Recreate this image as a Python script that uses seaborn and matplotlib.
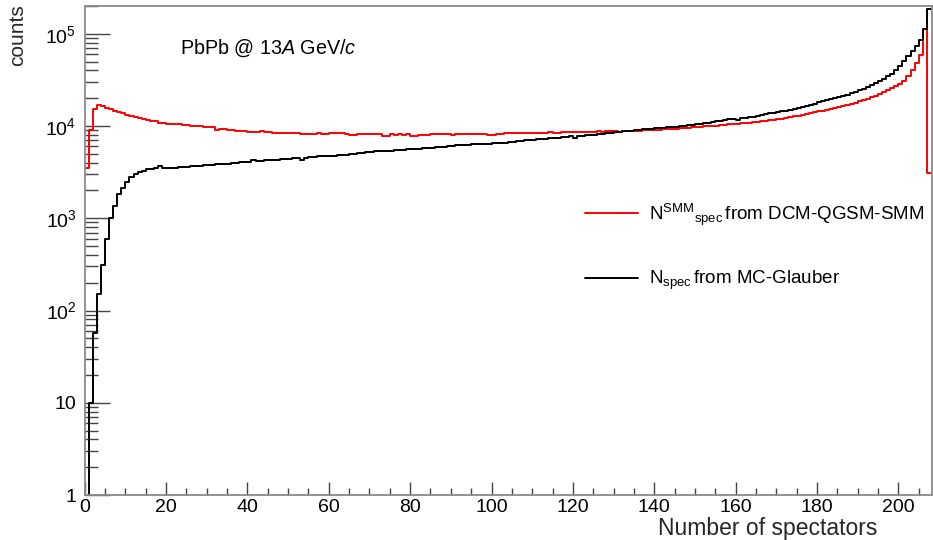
import numpy as np
import pandas as pd
import matplotlib
matplotlib.use("Agg")
import matplotlib.pyplot as plt
import seaborn as sns
from matplotlib.ticker import FixedLocator, MultipleLocator, LogLocator, NullFormatter, FixedFormatter

# ---------------- data (bin lower edges 0..207, width 1) ----------------
n_spec = np.arange(0, 208)

glauber_counts = [
    0, 10, 57, 152, 313, 594, 1000, 1343, 1830, 2110,
    2450, 2780, 2990, 3140, 3240, 3410, 3440, 3550, 3680, 3470,
    3550, 3480, 3490, 3600, 3620, 3640, 3650, 3680, 3720, 3760,
    3790, 3810, 3840, 3870, 3880, 3920, 3960, 4000, 4030, 4060,
    4100, 4250, 4150, 4180, 4230, 4260, 4290, 4330, 4360, 4380,
    4420, 4460, 4480, 4300, 4520, 4560, 4600, 4700, 4790, 4700,
    4750, 4780, 4800, 4850, 4900, 4950, 5000, 5050, 5120, 5200,
    5290, 5300, 5320, 5360, 5400, 5420, 5450, 5480, 5520, 5570,
    5610, 5650, 5700, 5740, 5790, 5840, 5880, 5930, 5990, 6040,
    6100, 6150, 6200, 6250, 6300, 6360, 6380, 6400, 6420, 6450,
    6480, 6500, 6520, 6600, 6680, 6750, 6830, 6910, 6970, 7030,
    7090, 7150, 7200, 7270, 7350, 7420, 7500, 7570, 7650, 7720,
    7400, 7800, 7860, 7930, 8010, 8090, 8170, 8250, 8330, 8430,
    8540, 8650, 8730, 8810, 8900, 8990, 9080, 9170, 9250, 9350,
    9400, 9480, 9560, 9640, 9730, 9850, 9970, 10080, 10190, 10300,
    10440, 10580, 10720, 10870, 11020, 11200, 11380, 11580, 11800, 11970,
    11600, 12150, 12300, 12400, 12550, 12800, 13200, 13400, 13700, 13950,
    14150, 14400, 14700, 15000, 15400, 15850, 16200, 16600, 17000, 17500,
    18000, 18500, 19000, 19500, 20000, 20600, 21200, 21800, 22600, 23400,
    24300, 25300, 26400, 27600, 29000, 30400, 32300, 34500, 37000, 40500,
    45000, 50100, 57000, 64500, 72800, 86000, 112000, 185000,
]

smm_counts = [
    3550, 9100, 15400, 17000, 16300, 15600, 15200, 14700, 14100, 13700,
    13300, 12900, 12500, 12200, 11900, 11500, 11200, 11300, 10900, 10700,
    10500, 10600, 10500, 10400, 10300, 10200, 10100, 10000, 9900, 9800,
    9700, 9650, 9150, 9300, 9200, 9100, 9000, 8900, 8800, 8750,
    8650, 8600, 8700, 8750, 8600, 8520, 8500, 8450, 8420, 8400,
    8450, 8400, 8300, 8280, 8200, 8150, 8180, 8400, 8250, 8200,
    8370, 8400, 8300, 8350, 8100, 7900, 8000, 8100, 8150, 8100,
    8170, 8150, 8100, 7750, 7800, 8100, 8050, 8150, 8000, 8100,
    7800, 7850, 8000, 8050, 8000, 8150, 8100, 8200, 8100, 8150,
    8050, 8150, 8200, 8170, 8150, 8200, 8100, 8150, 8150, 8000,
    8050, 8200, 8250, 8400, 8300, 8350, 8300, 8400, 8450, 8500,
    8400, 8450, 8500, 8500, 8550, 8450, 8500, 8550, 8600, 8580,
    8650, 8620, 8650, 8700, 8680, 8700, 8750, 8720, 8800, 8850,
    8940, 8700, 8750, 8800, 8820, 8850, 8900, 8950, 9000, 9100,
    9130, 9160, 9200, 9270, 9330, 9380, 9430, 9500, 9580, 9640,
    9720, 9800, 9900, 9970, 10040, 10120, 10200, 10300, 10400, 10480,
    10550, 10650, 10750, 10850, 10950, 11050, 11200, 11350, 11500, 11650,
    11800, 11970, 12200, 12450, 12700, 13000, 13250, 13500, 13800, 14100,
    14370, 14650, 14950, 15300, 15650, 16000, 16400, 16850, 17350, 17900,
    18450, 19100, 19800, 20500, 21300, 22200, 23300, 24500, 25800, 27000,
    28500, 31000, 35000, 40000, 47900, 59200, 112000, 3100,
]

x_major = [0, 20, 40, 60, 80, 100, 120, 140, 160, 180, 200]
y_major = [1, 10, 100, 1000, 10000, 100000]
y_labels = ["1", "10", r"$10^{2}$", r"$10^{3}$", r"$10^{4}$", r"$10^{5}$"]

label_smm = r"N$^{\mathregular{SMM}}$$_{\mathregular{spec}}$$\,$from DCM-QGSM-SMM"
label_gl = r"N$_{\mathregular{spec}}$$\,$from MC-Glauber"

# ---------------- style ----------------
sns.set_theme(style="ticks")
plt.rcParams['font.family'] = ['Liberation Sans', 'DejaVu Sans']
plt.rcParams['mathtext.fontset'] = 'custom'
plt.rcParams['mathtext.rm'] = 'Liberation Sans'
plt.rcParams['mathtext.it'] = 'Liberation Sans:italic'
plt.rcParams['mathtext.bf'] = 'Liberation Sans:bold'

df = pd.DataFrame({
    "n": n_spec + 0.5,
    "smm": smm_counts,
    "glauber": glauber_counts,
})
edges = [float(e) for e in np.append(n_spec, n_spec[-1] + 1)]

fig = plt.figure(figsize=(9.33, 5.40), dpi=100)
ax = fig.add_axes([84.7 / 933, 1 - 495 / 540, (931.7 - 84.7) / 933, (495 - 6) / 540])

sns.histplot(data=df, x="n", weights="smm", bins=edges, element="step", fill=False,
             color="#ff0000", linewidth=1.4, ax=ax, label=label_smm)
sns.histplot(data=df, x="n", weights="glauber", bins=edges, element="step", fill=False,
             color="black", linewidth=1.4, ax=ax, label=label_gl)

ax.set_yscale("log")
ax.set_xlim(0, 208.2)
ax.set_ylim(1, 2.0e5)
ax.set_xlabel("")
ax.set_ylabel("")

ax.xaxis.set_major_locator(FixedLocator(x_major))
ax.xaxis.set_minor_locator(MultipleLocator(5))
ax.yaxis.set_major_locator(FixedLocator(y_major))
ax.yaxis.set_major_formatter(FixedFormatter(y_labels))
ax.yaxis.set_minor_locator(LogLocator(base=10, subs=np.arange(2, 10)))
ax.yaxis.set_minor_formatter(NullFormatter())

frame_col = "#8a8a8a"
for s in ax.spines.values():
    s.set_color(frame_col)
    s.set_linewidth(1.3)

ax.tick_params(axis="x", which="major", direction="in", length=9.5, width=1.0, color="#444444",
               labelsize=14, pad=3, labelcolor="black")
ax.tick_params(axis="x", which="minor", direction="in", length=5, width=1.0, color="#444444")
ax.tick_params(axis="y", which="major", direction="in", length=18, width=1.0, color="#444444",
               labelsize=14, pad=6, labelcolor="black")
ax.tick_params(axis="y", which="minor", direction="in", length=9, width=1.0, color="#444444")
ax.tick_params(top=False, right=False, which="both")

fig.text(18 / 933, 1 - 4 / 540, "counts", rotation=90, ha="center", va="top", fontsize=15)
fig.text(877 / 933, 1 - 535 / 540, "Number of spectators", ha="right", va="baseline",
         fontsize=16.5)
fig.text(180 / 933, 1 - 48 / 540, r"PbPb @ 13$\mathit{A}$ GeV/$\mathit{c}$", ha="left",
         va="center", fontsize=14.2, color="black")

leg = ax.legend(loc="upper left", bbox_to_anchor=(576 / 933, 1 - 192 / 540),
                bbox_transform=fig.transFigure, frameon=False, fontsize=13.5,
                handlelength=2.8, handletextpad=0.6, labelspacing=2.2, borderpad=0)
for t in leg.get_texts():
    t.set_color("black")

fig.savefig("out.png", dpi=100)
